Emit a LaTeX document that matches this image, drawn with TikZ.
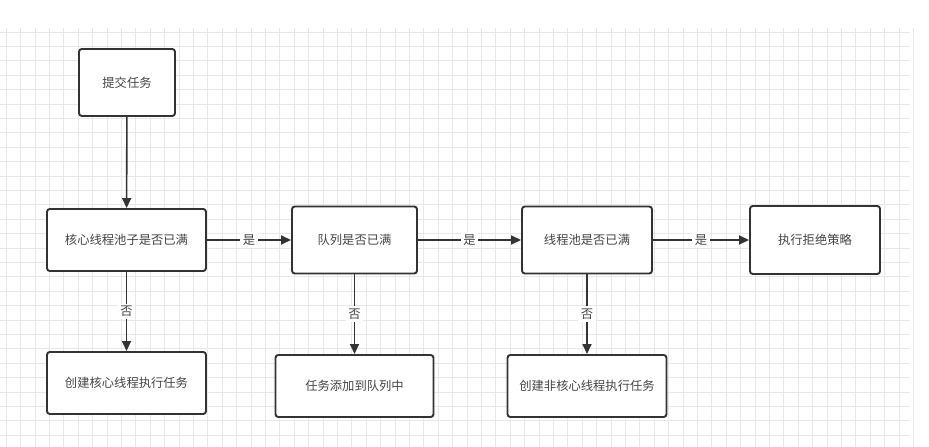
\documentclass[tikz,border=0pt]{standalone}
\usepackage{fontspec}
\setmainfont{Noto Sans CJK SC}
\usetikzlibrary{positioning,arrows.meta,calc}
\definecolor{figgrid}{gray}{0.91}
\definecolor{figline}{gray}{0.2}
\definecolor{figtext}{gray}{0.27}
\tikzset{
  fig/.style={font=\fontsize{7}{8}\selectfont,text=figtext},
  box/.style={draw=figline,line width=1.1pt,rounded corners=1.6pt,fill=white,
              align=center,inner sep=2pt},
  ln/.style={-{Triangle[length=2mm,width=1.8mm]},line width=0.9pt,draw=figline},
  lbl/.style={fill=white,inner sep=1.5pt},
}

\begin{document}
\begin{tikzpicture}[fig,x=0.2mm,y=-0.2mm]

\useasboundingbox (0,0) rectangle (929,447);
% background grid
\foreach \gx in {0,...,63}
  \draw[figgrid,line width=0.5pt] ({6.2+14.4*\gx},28) -- ({6.2+14.4*\gx},447);
\foreach \gy in {0,...,28}
  \draw[figgrid,line width=0.5pt] (0,{32+14.4*\gy}) -- (910,{32+14.4*\gy});

\node[box,minimum width=19.2mm,minimum height=13.4mm] (submit) at (127,82.5) {提交任务};

\node[box,minimum width=31.8mm,minimum height=12.4mm] (core) at (126.5,240) {核心线程池子是否已满};
\node[box,minimum width=25mm,minimum height=13.4mm] (queue) at (354.5,240) {队列是否已满};
\node[box,minimum width=26mm,minimum height=13.4mm] (pool) at (587,240) {线程池是否已满};
\node[box,minimum width=26mm,minimum height=13.6mm] (reject) at (815,240) {执行拒绝策略};

\node[box,minimum width=31.8mm,minimum height=12.4mm] (newcore) at (126.5,383) {创建核心线程执行任务};
\node[box,minimum width=31.6mm,minimum height=12.4mm] (enqueue) at (354.5,386) {任务添加到队列中};
\node[box,minimum width=31.8mm,minimum height=12.4mm] (newextra) at (587,386) {创建非核心线程执行任务};

\draw[ln] (submit) -- (core);
\draw[ln] (core) -- node[lbl]{是} (queue);
\draw[ln] (queue) -- node[lbl]{是} (pool);
\draw[ln] (pool) -- node[lbl]{是} (reject);
\draw[ln] (core) -- node[lbl]{否} (newcore);
\draw[ln] (queue) -- node[lbl]{否} (enqueue);
\draw[ln] (pool) -- node[lbl]{否} (newextra);

\end{tikzpicture}
\end{document}
